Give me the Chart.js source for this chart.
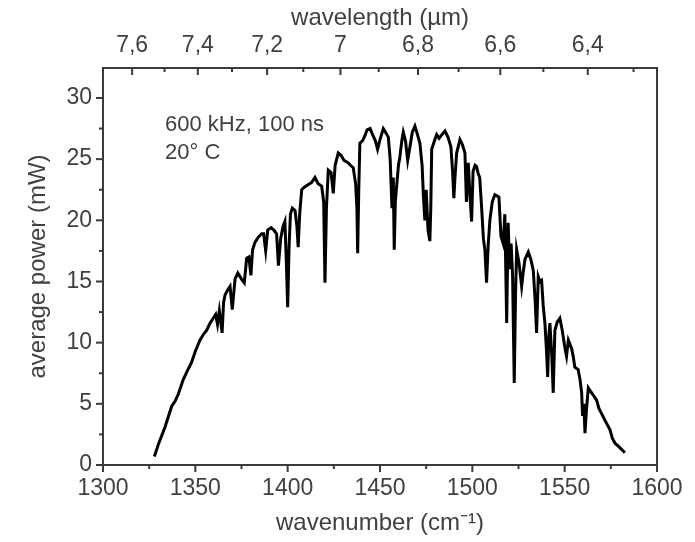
<!DOCTYPE html>
<html>
<head>
<meta charset="utf-8">
<title>average power vs wavenumber</title>
<script src="https://cdn.jsdelivr.net/npm/chart.js@4.4.1/dist/chart.umd.min.js"></script>
<style>
    body { margin: 0; background: #fff; }
    #wrap { width: 695px; height: 542px; }
</style>
</head>
<body>
<div id="wrap"><canvas id="myChart" width="695" height="542"></canvas></div>
<script>
// spectrum: wavenumber (cm-1) and average power (mW)
const wavenumber = [
    1327.8, 1330, 1333.6, 1335.5, 1337.2, 1339, 1340.8, 1343.5, 1346, 1348,
    1350, 1352.5, 1354.5, 1356.1, 1358, 1359.7, 1361, 1362, 1363, 1364.5,
    1365.3, 1366.1, 1367.5, 1368.8, 1370, 1371.5, 1373, 1375, 1376.5, 1377.8,
    1379, 1380.1, 1381, 1382.3, 1384, 1385.9, 1387, 1388.1, 1389.2, 1391,
    1392.5, 1394, 1395, 1396.2, 1397.5, 1398.5, 1399.2, 1400, 1400.8, 1401.5,
    1402.5, 1404, 1405, 1405.7, 1406.5, 1407.6, 1409, 1411, 1413, 1414.8,
    1416.5, 1418.4, 1419.5, 1420.2, 1421, 1422, 1423.5, 1424.7, 1425.7, 1427.4,
    1429, 1430.5, 1432.8, 1434, 1435.5, 1436.8, 1437.5, 1437.9, 1438.5, 1439.1,
    1440.5, 1441.8, 1443, 1444.6, 1446, 1447.5, 1448.7, 1450, 1451.8, 1453,
    1454.5, 1455.5, 1456.5, 1457.2, 1457.7, 1458.3, 1459, 1460, 1460.8, 1461.8,
    1462.6, 1463.8, 1465, 1466.2, 1467.5, 1468.9, 1470.3, 1471.6, 1472.8, 1473.5,
    1474.3, 1475, 1476, 1477, 1477.5, 1478, 1479.5, 1480.7, 1482, 1483.5,
    1485.2, 1486.8, 1488.4, 1489.3, 1490, 1490.6, 1491.5, 1493.3, 1494.6, 1496,
    1496.8, 1497.8, 1498.8, 1499.6, 1500.4, 1501.5, 1502.3, 1503.2, 1504, 1505,
    1506, 1506.8, 1507.7, 1508.6, 1509.5, 1510.8, 1512.2, 1513.3, 1514.4, 1515.5,
    1516.7, 1517.6, 1518.6, 1519.4, 1520.2, 1521, 1521.8, 1522.7, 1523.4, 1524,
    1525.3, 1526.7, 1527.6, 1528.5, 1530.3, 1531.7, 1533, 1534, 1534.8, 1535.7,
    1536.6, 1537.5, 1538.4, 1539.3, 1540.1, 1540.8, 1541.4, 1542, 1543, 1543.8,
    1544.7, 1546, 1547.4, 1548.7, 1550.1, 1551, 1552, 1553.8, 1554.6, 1555.5,
    1557.3, 1558.3, 1559.2, 1559.7, 1560.4, 1561, 1561.8, 1562.8, 1564.6, 1566,
    1567.3, 1568.6, 1570, 1571.3, 1572.7, 1574.5, 1575.8, 1577.2, 1578.6, 1580,
    1581.3, 1582.6
];
const power = [
    0.7, 1.7, 3.1, 4.0, 4.8, 5.2, 5.8, 7.0, 7.8, 8.4,
    9.3, 10.2, 10.7, 11.0, 11.6, 12.0, 12.3, 11.5, 12.6, 10.8,
    13.3, 13.9, 14.3, 14.6, 12.7, 15.2, 15.7, 15.2, 14.9, 16.9,
    17.0, 15.5, 17.6, 18.2, 18.6, 18.9, 18.9, 17.5, 19.2, 19.4,
    19.2, 18.9, 16.3, 18.5, 19.5, 19.9, 17.0, 12.9, 18.0, 20.5,
    21.0, 20.8, 19.5, 17.8, 20.5, 22.5, 22.7, 22.9, 23.1, 23.5,
    23.0, 22.8, 21.5, 14.9, 21.0, 24.1, 23.9, 22.2, 24.5, 25.5,
    25.3, 24.9, 24.7, 24.5, 24.3, 23.0, 21.0, 17.3, 22.5, 26.3,
    26.5, 26.9, 27.4, 27.5, 27.0, 26.5, 25.8, 26.6, 27.5, 27.2,
    26.8, 25.0, 21.0, 23.5, 17.6, 21.5, 22.8, 24.5, 25.2, 26.5,
    27.2, 26.5, 24.9, 26.0, 27.2, 27.7, 27.0, 26.3, 24.5, 22.0,
    20.0, 22.5, 19.2, 18.3, 21.0, 25.8, 26.5, 27.0, 26.7, 27.0,
    27.3, 26.8, 26.0, 24.0, 21.8, 23.5, 25.5, 26.6, 26.2, 25.5,
    21.5, 24.7, 21.8, 19.9, 24.0, 24.5, 24.4, 23.8, 23.5, 21.1,
    18.5, 17.6, 14.9, 18.0, 20.0, 21.5, 22.1, 22.0, 21.9, 18.7,
    18.1, 20.5, 11.6, 19.8, 16.0, 18.1, 15.5, 6.7, 14.0, 17.6,
    16.5, 14.6, 15.8, 16.8, 17.4, 16.8, 15.9, 13.5, 10.8, 15.4,
    15.0, 15.1, 13.0, 11.6, 9.5, 7.2, 10.5, 11.6, 9.0, 5.9,
    11.0, 11.7, 12.0, 11.0, 9.6, 8.9, 10.2, 9.5, 8.9, 8.0,
    7.8, 7.0, 5.9, 4.0, 5.0, 2.6, 4.5, 6.3, 5.9, 5.6,
    5.3, 4.6, 4.2, 3.8, 3.4, 2.9, 2.2, 1.8, 1.6, 1.4,
    1.2, 1.0
];

// axis ticks
const wavenumberTicks = [1300, 1350, 1400, 1450, 1500, 1550, 1600];
const wavenumberMinor = [1325, 1375, 1425, 1475, 1525, 1575];
const powerTicks = [0, 5, 10, 15, 20, 25, 30];
const powerMinor = [2.5, 7.5, 12.5, 17.5, 22.5, 27.5];
const wavelengthTicks = [7.6, 7.4, 7.2, 7.0, 6.8, 6.6, 6.4];   // µm
const wavelengthMinor = [7.5, 7.3, 7.1, 6.9, 6.7, 6.5, 6.3];
const noteLines = ["600 kHz, 100 ns", "20° C"];

const textColor = '#404040';
const fontName = '"Liberation Sans", Arial, sans-serif';

// wavelength in µm <-> wavenumber in cm-1
function toWavenumber(um) {
    return 10000 / um;
}

// Chart.js has no minor ticks, so draw the frame and all tick marks here
const frameTicks = {
    id: 'frameTicks',
    afterDraw(chart) {
        const ctx = chart.ctx;
        const a = chart.chartArea;
        const xs = chart.scales.x;
        const ys = chart.scales.y;
        const xt = chart.scales.xTop;
        ctx.save();
        ctx.strokeStyle = '#3a3a3a';
        ctx.lineWidth = 2;
        ctx.strokeRect(a.left, a.top, a.right - a.left, a.bottom - a.top);

        function vtick(x, y0, len) {
            ctx.beginPath();
            ctx.moveTo(x, y0);
            ctx.lineTo(x, y0 + len);
            ctx.stroke();
        }
        function htick(y, x0, len) {
            ctx.beginPath();
            ctx.moveTo(x0, y);
            ctx.lineTo(x0 + len, y);
            ctx.stroke();
        }
        wavenumberTicks.forEach(v => vtick(xs.getPixelForValue(v), a.bottom, 7));
        wavenumberMinor.forEach(v => vtick(xs.getPixelForValue(v), a.bottom, 4));
        powerTicks.forEach(v => htick(ys.getPixelForValue(v), a.left, -7));
        powerMinor.forEach(v => htick(ys.getPixelForValue(v), a.left, -4));
        // top axis ticks point into the plot
        wavelengthTicks.forEach(v => vtick(xt.getPixelForValue(toWavenumber(v)), a.top, 7));
        wavelengthMinor.forEach(v => vtick(xt.getPixelForValue(toWavenumber(v)), a.top, 4));

        // the note in the upper left corner
        ctx.fillStyle = textColor;
        ctx.font = '22px ' + fontName;
        ctx.textBaseline = 'middle';
        ctx.textAlign = 'left';
        for (let i = 0; i < noteLines.length; i++) {
            ctx.fillText(noteLines[i], a.left + 62, a.top + 57 + i * 28);
        }
        ctx.restore();
    }
};

const points = wavenumber.map((w, i) => ({ x: w, y: power[i] }));

const ctx = document.getElementById('myChart').getContext('2d');
const chart = new Chart(ctx, {
    type: 'line',
    data: {
        datasets: [{
            data: points,
            borderColor: '#000',
            borderWidth: 3,
            borderJoinStyle: 'miter',
            pointRadius: 0,
            tension: 0,
            fill: false
        }]
    },
    options: {
        responsive: false,
        animation: false,
        devicePixelRatio: 1,
        layout: { padding: { left: 0, right: 38, top: 0, bottom: 0 } },
        plugins: {
            legend: { display: false },
            tooltip: { enabled: false }
        },
        scales: {
            x: {
                type: 'linear',
                position: 'bottom',
                min: 1300,
                max: 1600,
                grid: { display: false, drawTicks: false },
                border: { display: false },
                afterBuildTicks: axis => { axis.ticks = wavenumberTicks.map(v => ({ value: v })); },
                afterFit: axis => { axis.height = 77; },
                ticks: {
                    padding: 10,
                    color: textColor,
                    font: { family: fontName, size: 23 },
                    maxRotation: 0,
                    autoSkip: false,
                    callback: value => String(value)
                },
                title: {
                    display: true,
                    text: 'wavenumber (cm⁻¹)',
                    color: textColor,
                    font: { family: fontName, size: 24 },
                    padding: { top: 0, bottom: 4 }
                }
            },
            xTop: {
                type: 'linear',
                position: 'top',
                min: 1300,
                max: 1600,
                grid: { display: false, drawTicks: false },
                border: { display: false },
                afterBuildTicks: axis => { axis.ticks = wavelengthTicks.map(v => ({ value: toWavenumber(v) })); },
                afterFit: axis => { axis.height = 68; },
                ticks: {
                    padding: 9,
                    color: textColor,
                    font: { family: fontName, size: 23 },
                    maxRotation: 0,
                    autoSkip: false,
                    callback: value => String(Math.round(10000 / value * 10) / 10).replace('.', ',')
                },
                title: {
                    display: true,
                    text: 'wavelength (µm)',
                    color: textColor,
                    font: { family: fontName, size: 24 },
                    padding: { top: 4, bottom: 0 }
                }
            },
            y: {
                type: 'linear',
                position: 'left',
                min: 0,
                max: 32.45,
                grid: { display: false, drawTicks: false },
                border: { display: false },
                afterBuildTicks: axis => { axis.ticks = powerTicks.map(v => ({ value: v })); },
                afterFit: axis => { axis.width = 103; },
                ticks: {
                    padding: 11,
                    color: textColor,
                    font: { family: fontName, size: 23 },
                    autoSkip: false
                },
                title: {
                    display: true,
                    text: 'average power (mW)',
                    color: textColor,
                    font: { family: fontName, size: 24 },
                    padding: { top: 24, bottom: 0 }
                }
            }
        }
    },
    plugins: [frameTicks]
});
</script>
</body>
</html>
